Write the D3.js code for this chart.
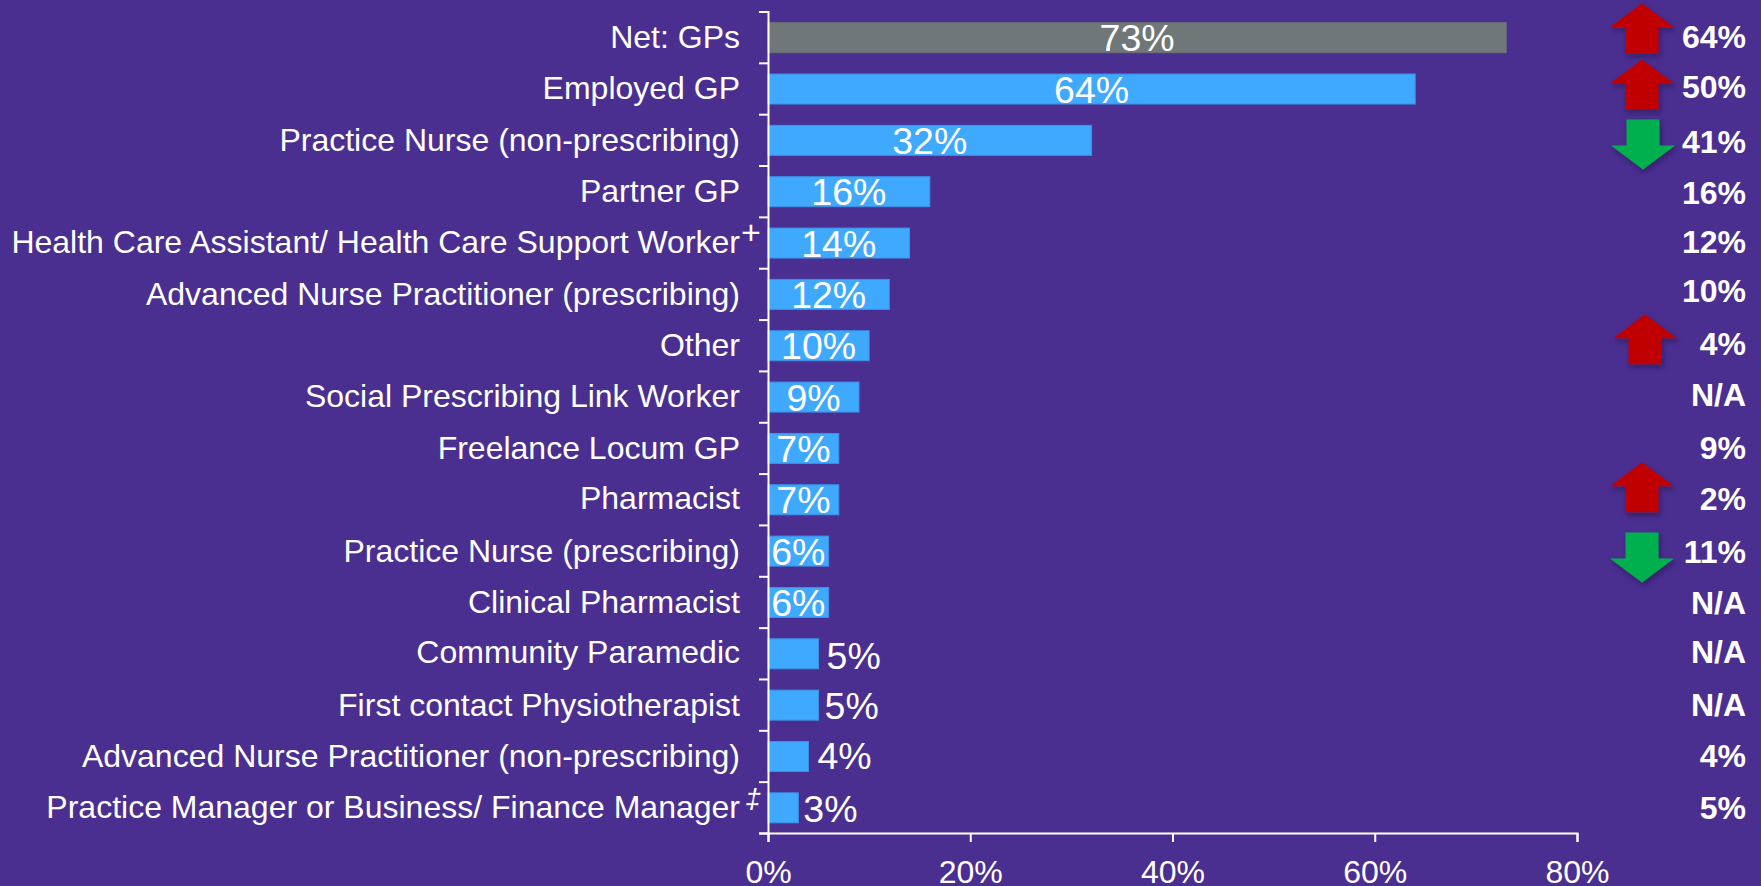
<!DOCTYPE html>
<html><head><meta charset="utf-8">
<script src="https://cdn.jsdelivr.net/npm/d3@7/dist/d3.min.js"></script>
<style>html,body{margin:0;padding:0;background:#4a2f91;overflow:hidden}svg{display:block;font-family:"Liberation Sans",Arial,sans-serif}</style>
</head><body><svg id="c" width="1761" height="886"></svg>
<script>
const categories=["Net: GPs","Employed GP","Practice Nurse (non-prescribing)","Partner GP","Health Care Assistant/ Health Care Support Worker","Advanced Nurse Practitioner (prescribing)","Other","Social Prescribing Link Worker","Freelance Locum GP","Pharmacist","Practice Nurse (prescribing)","Clinical Pharmacist","Community Paramedic","First contact Physiotherapist","Advanced Nurse Practitioner (non-prescribing)","Practice Manager or Business/ Finance Manager"];
const values=[73,64,32,16,14,12,10,9,7,7,6,6,5,5,4,3];
const previous=["64%","50%","41%","16%","12%","10%","4%","N/A","9%","2%","11%","N/A","N/A","N/A","4%","5%"];
const trend=["up","up","down","","","","up","","","up","down","","","","",""];
const xTicks=[0,20,40,60,80];

const W=1761,H=886;
const svg=d3.select("#c");
const x=d3.scaleLinear().domain([0,80]).range([768,1577]);
const rows=d3.scaleLinear().domain([0,16]).range([11.5,833]);
const y=d3.scaleBand().domain(categories).range([11.5,833]);
const barH=30;
const cy=c=>y(c)+y.bandwidth()/2;
const white="#fff";

const defs=svg.append("defs");
defs.append("filter").attr("id","sh").attr("x","-30%").attr("y","-30%").attr("width","160%").attr("height","160%")
 .append("feDropShadow").attr("dx",1.5).attr("dy",3).attr("stdDeviation",2.5).attr("flood-color","#1c1040").attr("flood-opacity",.55);

// bars
svg.append("g").selectAll("rect").data(categories).join("rect")
 .attr("x",x(0)).attr("y",c=>cy(c)-barH/2+.5).attr("height",barH)
 .attr("width",(c,i)=>x(values[i])-x(0))
 .attr("fill",(c,i)=>i==0?"#6f7779":"#3fa9ff")
 .attr("stroke",(c,i)=>i==0?"#6a7274":"#3a92e4").attr("stroke-width",1);

// axes
const axL=svg.append("g").attr("transform",`translate(${x(0)},0)`)
 .call(d3.axisLeft(rows).tickValues(d3.range(0,17)).tickSize(9).tickFormat(""));
const axB=svg.append("g").attr("transform",`translate(0,${rows(16)})`)
 .call(d3.axisBottom(x).tickValues(xTicks).tickSize(9).tickPadding(18).tickFormat(d=>d+"%"));
[axL,axB].forEach(a=>{a.selectAll("path,line").attr("stroke",white).attr("stroke-width",2);});
axB.selectAll("text").attr("fill",white).attr("font-size",32).attr("font-family","Liberation Sans");

// category labels
const catDy=[0,-1,0,0,-1,0,0,-1,0,-1,0,0,-1,0,0,-1];
svg.append("g").selectAll("text").data(categories).join("text")
 .attr("x",740).attr("y",(c,i)=>cy(c)+catDy[i]).attr("dy",".35em")
 .attr("text-anchor","end").attr("fill",white).attr("font-size",32).text(c=>c);
svg.append("text").attr("x",751).attr("y",cy(categories[4])+1).attr("text-anchor","middle")
 .attr("fill",white).attr("font-size",34).text("+");
svg.append("text").attr("x",753).attr("y",cy(categories[15])+1).attr("text-anchor","middle")
 .attr("fill",white).attr("font-size",28).attr("font-style","italic").text("‡");

// value labels
const outsideGap=[0,0,0,0,0,0,0,0,0,0,0,0,8,6,9,5];
const valueDy=[1,1,1,1,1,1,1,1,1,1,1,1,3,1,0,2];
svg.append("g").selectAll("text").data(categories).join("text")
 .attr("x",(c,i)=>outsideGap[i]?x(values[i])+outsideGap[i]:(x(0)+x(values[i]))/2)
 .attr("y",(c,i)=>cy(c)+valueDy[i]).attr("dy",".35em")
 .attr("text-anchor",(c,i)=>outsideGap[i]?"start":"middle")
 .attr("fill",white).attr("font-size",37.5).text((c,i)=>values[i]+"%");

// previous wave column
const prevDy=[0,-1.5,1.5,2,-1,-3,-1,-2,0,0,1.5,1,-1,0,0,0];
svg.append("g").selectAll("text").data(categories).join("text")
 .attr("x",1746).attr("y",(c,i)=>cy(c)+prevDy[i]).attr("dy",".35em")
 .attr("text-anchor","end").attr("fill",white).attr("font-weight","bold").attr("font-size",32)
 .text((c,i)=>previous[i]);

// trend arrows
const arrowDx=[0,0,1,0,0,0,3,0,0,0,0,0,0,0,0,0];
const arrowDy=[-9,-4,4.7,0,0,0,-6,0,0,-12,7,0,0,0,0,0];
const cx=1642;
const upPts=[[0,-25],[32,-1],[16.5,-1],[16.5,25],[-16.5,25],[-16.5,-1],[-32,-1]];
const line=d3.line().curve(d3.curveLinearClosed);
svg.append("g").attr("filter","url(#sh)").selectAll("path")
 .data(categories.map((c,i)=>({c,i})).filter(d=>trend[d.i])).join("path")
 .attr("d",d=>line(upPts.map(([a,b])=>[a,trend[d.i]=="up"?b:-b])))
 .attr("transform",d=>`translate(${cx+arrowDx[d.i]},${cy(d.c)+arrowDy[d.i]})`)
 .attr("fill",d=>trend[d.i]=="up"?"#c00000":"#00b050");
</script></body></html>
